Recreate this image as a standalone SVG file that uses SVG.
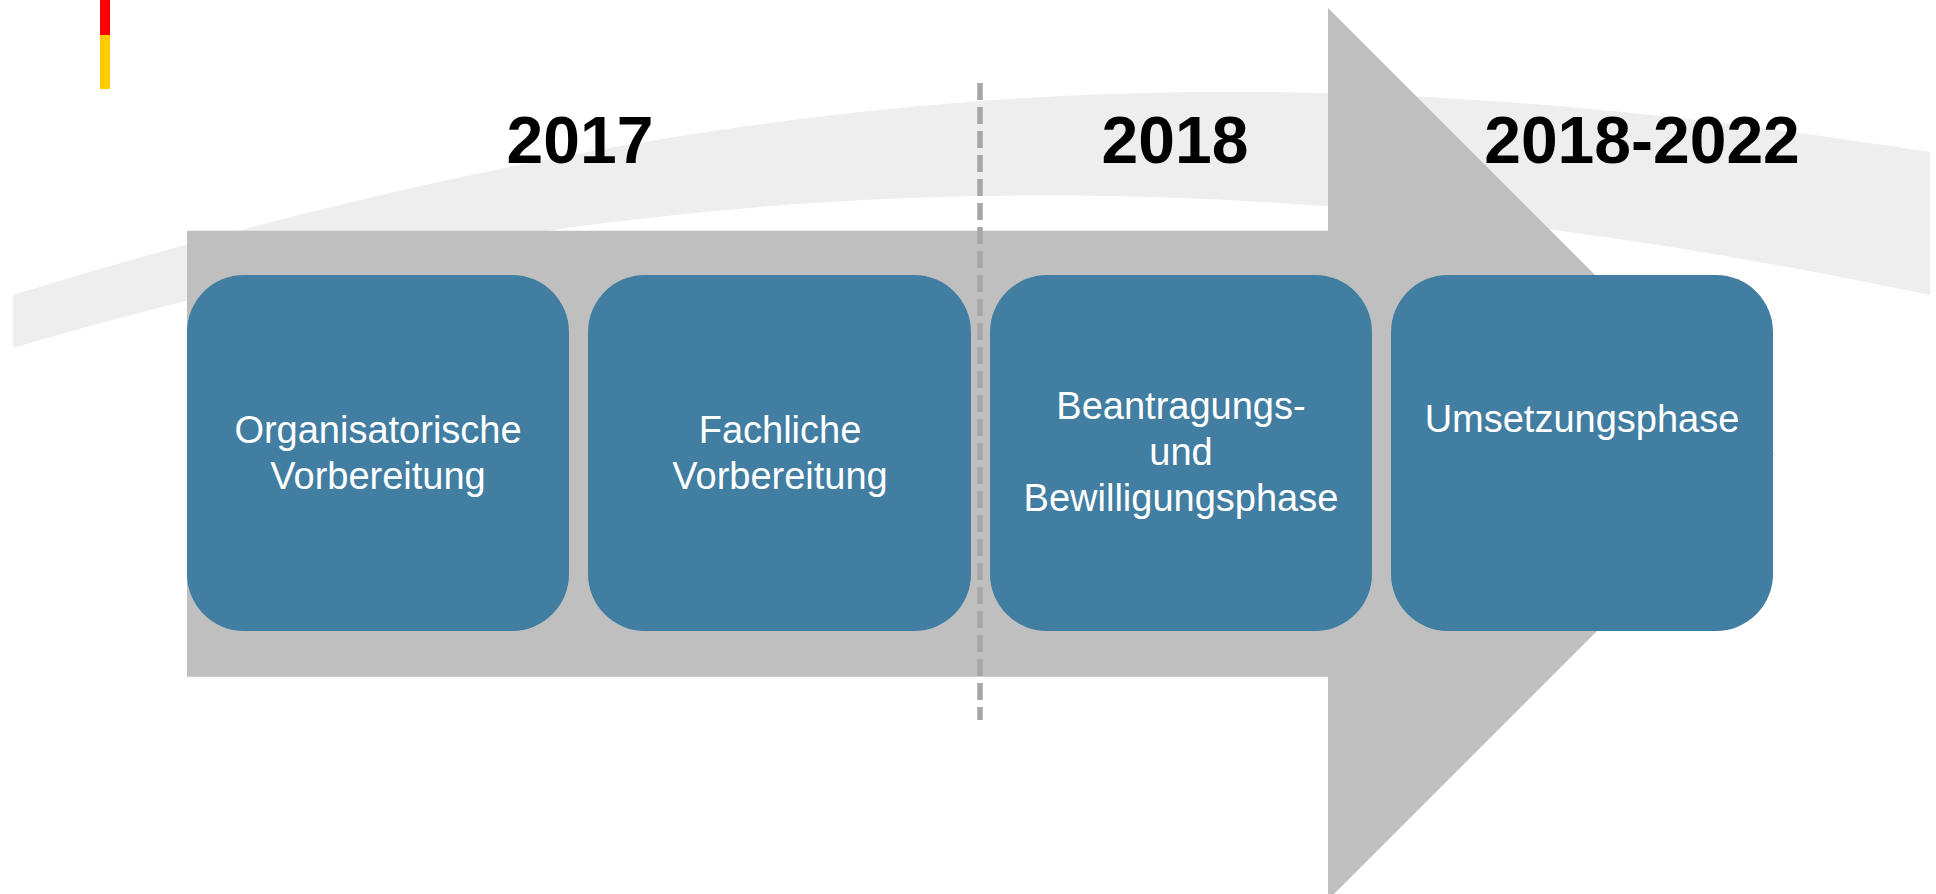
<svg xmlns="http://www.w3.org/2000/svg" width="1936" height="894" viewBox="0 0 1936 894">
  <style>
    .box { fill: #417ea2; }
    .lbl { font-family: "Liberation Sans", Arial, sans-serif; font-size: 38px; fill: #ffffff; text-anchor: middle; }
    .year { font-family: "Liberation Sans", Arial, sans-serif; font-size: 66px; font-weight: bold; fill: #000000; text-anchor: middle; }
  </style>
  <rect x="0" y="0" width="1936" height="894" fill="#ffffff"/>
  <g id="flag">
    <rect x="100" y="0" width="10" height="35" fill="#ff0000"/>
    <rect x="100" y="35" width="10" height="54" fill="#ffcc00"/>
  </g>
  <g id="band">
    <path d="M13,295 C813,49.4 1330,59.6 1930,152 L1930,295 C1380,180 763,126.75 13,348 Z" fill="#eeeeee"/>
  </g>
  <g id="arrow">
    <path d="M187,230.7 H1328 V8 L1774,454 L1328,900 V676.7 H187 Z" fill="#bfbfbf"/>
  </g>
  <g id="connectors">
    <line x1="980" y1="83" x2="980" y2="720" stroke="#a6a6a6" stroke-width="5.5" stroke-dasharray="17 7"/>
  </g>
  <g id="years">
    <text class="year" x="580" y="163">2017</text>
    <text class="year" x="1175" y="163">2018</text>
    <text class="year" x="1642" y="163">2018-2022</text>
  </g>
  <g id="node1">
    <rect class="box" x="187" y="275" width="382" height="356" rx="57" ry="57"/>
    <text class="lbl" x="378" y="443">Organisatorische</text>
    <text class="lbl" x="378" y="489">Vorbereitung</text>
  </g>
  <g id="node2">
    <rect class="box" x="588" y="275" width="383" height="356" rx="57" ry="57"/>
    <text class="lbl" x="780" y="443">Fachliche</text>
    <text class="lbl" x="780" y="489">Vorbereitung</text>
  </g>
  <g id="node3">
    <rect class="box" x="990" y="275" width="382" height="356" rx="57" ry="57"/>
    <text class="lbl" x="1181" y="419">Beantragungs-</text>
    <text class="lbl" x="1181" y="465">und</text>
    <text class="lbl" x="1181" y="511">Bewilligungsphase</text>
  </g>
  <g id="node4">
    <rect class="box" x="1391" y="275" width="382" height="356" rx="57" ry="57"/>
    <text class="lbl" x="1582" y="432">Umsetzungsphase</text>
  </g>
</svg>
